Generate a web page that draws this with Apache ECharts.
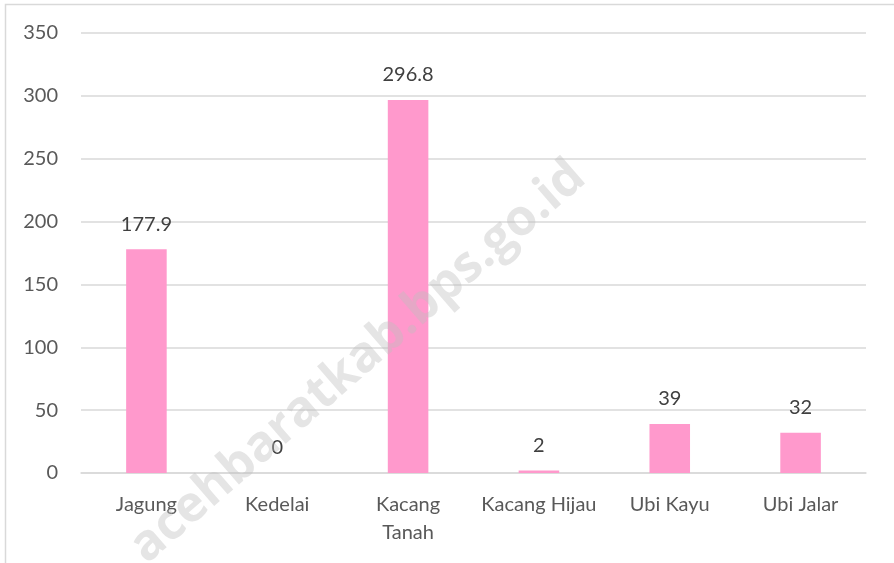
<!DOCTYPE html>
<html lang="id">
<head>
    <meta charset="UTF-8">
    <title>Produksi Palawija</title>
    <script src="https://cdn.jsdelivr.net/npm/echarts@6/dist/echarts.min.js"></script>
    <style>
        html, body { margin: 0; padding: 0; background: #fff; }
    </style>
</head>
<body>
<div id="main" style="width: 894px;height:563px;"></div>
<script>
    // data
    var categories = ['Jagung', 'Kedelai', 'Kacang Tanah', 'Kacang Hijau', 'Ubi Kayu', 'Ubi Jalar'];
    var values = [177.9, 0, 296.8, 2, 39, 32];
    var yTicks = [0, 50, 100, 150, 200, 250, 300, 350];

    var myChart = echarts.init(document.getElementById('main'));

    var font = 'Lato, "Open Sans", sans-serif';

    option = {
        backgroundColor: '#fff',
        animation: false,
        grid: {
            left: 81,
            right: 28,
            top: 33,
            bottom: 90
        },
        graphic: [
            {
                type: 'rect',
                shape: { x: 5.5, y: 4.5, width: 1000, height: 1000 },
                style: { fill: 'none', stroke: '#d9d9d9', lineWidth: 1.5 },
                z: -10
            },
            {
                type: 'text',
                x: 358,
                y: 362,
                rotation: Math.PI * 41 / 180,
                originX: 0,
                originY: 0,
                style: {
                    text: 'acehbaratkab.bps.go.id',
                    font: 'bold 50px "Open Sans", sans-serif',
                    fill: 'rgba(190,190,190,0.4)',
                    textAlign: 'center',
                    textVerticalAlign: 'middle'
                },
                z: 100
            }
        ],
        xAxis: {
            type: 'category',
            data: categories,
            axisLine: { lineStyle: { color: '#d9d9d9', width: 1.5 } },
            axisTick: { show: false },
            axisLabel: {
                interval: 0,
                color: '#595959',
                fontFamily: font,
                fontSize: 20,
                margin: 18,
                lineHeight: 28,
                formatter: function (v) {
                    return v === 'Kacang Tanah' ? 'Kacang\nTanah' : v;
                }
            }
        },
        yAxis: {
            type: 'value',
            min: yTicks[0],
            max: yTicks[yTicks.length - 1],
            interval: 50,
            axisLine: { show: false },
            axisTick: { show: false },
            axisLabel: {
                color: '#595959',
                fontFamily: font,
                fontSize: 20,
                margin: 23
            },
            splitLine: { lineStyle: { color: '#d9d9d9', width: 1.5 } }
        },
        series: [
            {
                type: 'bar',
                data: values,
                barWidth: '31%',
                itemStyle: { color: '#ff99cc' },
                label: {
                    show: true,
                    position: 'top',
                    distance: 15,
                    color: '#404040',
                    fontFamily: font,
                    fontSize: 20
                }
            }
        ]
    };
    myChart.setOption(option);
</script>
</body>
</html>
